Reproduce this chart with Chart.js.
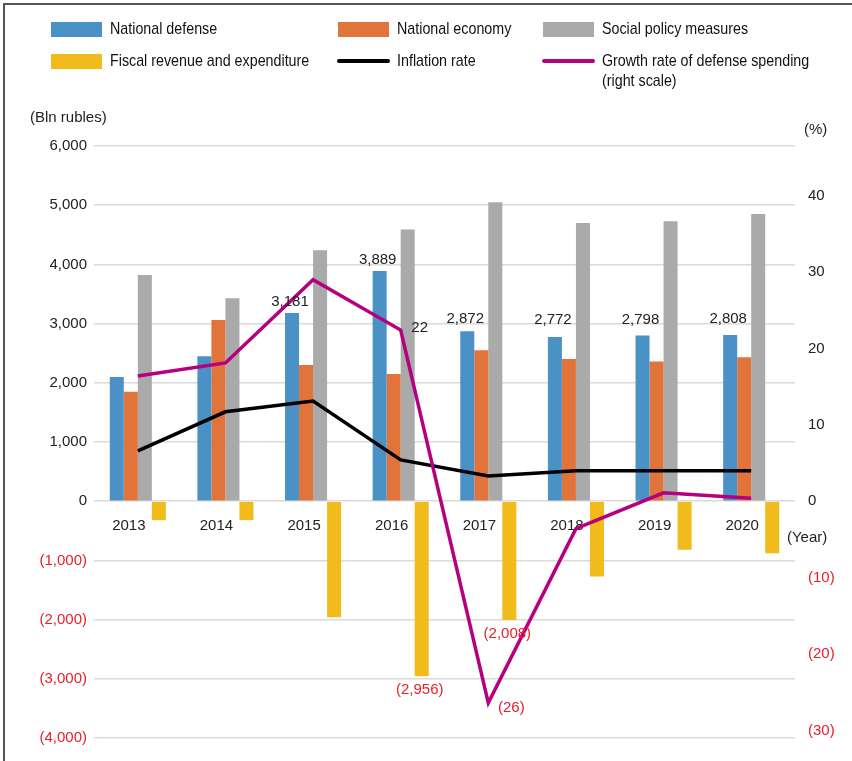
<!DOCTYPE html>
<html><head><meta charset="utf-8">
<script src="https://cdn.jsdelivr.net/npm/chart.js@4.4.1/dist/chart.umd.min.js"></script>
<style>html,body{margin:0;padding:0;background:#fff}#wrap{position:relative;width:852px;height:761px}</style>
</head><body><div id="wrap"><canvas id="c"></canvas></div>
<script>
// ---- data ----
const years = ['2013', '2014', '2015', '2016', '2017', '2018', '2019', '2020'];
const nationalDefense = [2100, 2450, 3181, 3889, 2872, 2772, 2798, 2808];
const nationalEconomy = [1850, 3060, 2300, 2150, 2550, 2400, 2360, 2430];
const socialPolicy = [3820, 3430, 4240, 4590, 5050, 4700, 4730, 4850];
const fiscalBalance = [-320, -320, -1960, -2956, -2008, -1270, -820, -880];
const inflationRate = [6.6, 11.7, 13.1, 5.4, 3.3, 4.0, 4.0, 4.0];
const defenseGrowth = [16.4, 18.1, 29.0, 22.4, -26.4, -3.6, 1.1, 0.4];
const leftTicks = [-4000, -3000, -2000, -1000, 0, 1000, 2000, 3000, 4000, 5000, 6000];
const rightTicks = [-30, -20, -10, 0, 10, 20, 30, 40];
const labeledDefenseYears = ['2015', '2016', '2017', '2018', '2019', '2020'];
const labeledFiscalYears = ['2016', '2017'];
const labeledGrowthYears = ['2016', '2017'];

// ---- style ----
const C = {blue:'#4a92c6', orange:'#e0743a', gray:'#a9aaa9', yellow:'#f2bb1c', black:'#000000', magenta:'#b5007f', red:'#e8202a', text:'#222222', grid:'#dadada'};
const FONT = '"Liberation Sans", Arial, sans-serif';
const LEGEND_FONT = '17px "Liberation Sans", Arial, sans-serif';
const LEGEND_STRETCH = 0.84;
Chart.defaults.font.family = FONT;
Chart.defaults.font.size = 15;
Chart.defaults.color = C.text;

const fmt = v => { const s = Math.abs(v).toLocaleString('en-US'); return v < 0 ? '(' + s + ')' : s; };
const fmtPct = v => { const s = String(Math.abs(Math.round(v))); return v < 0 ? '(' + s + ')' : s; };

function narrowText(ctx, t, x, y) {
  ctx.save();
  ctx.translate(x, y);
  ctx.scale(LEGEND_STRETCH, 1);
  ctx.fillText(t, 0, 0);
  ctx.restore();
}

const decor = {
  id: 'decor',
  beforeDraw(chart) {
    const ctx = chart.ctx;
    ctx.save();
    ctx.fillStyle = '#fff';
    ctx.fillRect(0, 0, chart.width, chart.height);
    ctx.strokeStyle = '#555';
    ctx.lineWidth = 2;
    ctx.beginPath();
    ctx.moveTo(4, chart.height); ctx.lineTo(4, 4); ctx.lineTo(chart.width, 4);
    ctx.stroke();
    ctx.restore();
  },
  afterDraw(chart) {
    const ctx = chart.ctx;
    ctx.save();
    // legend
    const items = [
      {t:'National defense', c:C.blue, x:51, y:29, kind:'box'},
      {t:'National economy', c:C.orange, x:338, y:29, kind:'box'},
      {t:'Social policy measures', c:C.gray, x:543, y:29, kind:'box'},
      {t:'Fiscal revenue and expenditure', c:C.yellow, x:51, y:61, kind:'box'},
      {t:'Inflation rate', c:C.black, x:338, y:61, kind:'line'},
      {t:'Growth rate of defense spending', c:C.magenta, x:543, y:61, kind:'line', t2:'(right scale)'}
    ];
    ctx.font = LEGEND_FONT;
    ctx.textBaseline = 'middle';
    ctx.textAlign = 'left';
    for (const it of items) {
      if (it.kind === 'box') {
        ctx.fillStyle = it.c;
        ctx.fillRect(it.x, it.y - 7, 51, 15);
      } else {
        ctx.strokeStyle = it.c;
        ctx.lineWidth = 4;
        ctx.lineCap = 'round';
        ctx.beginPath(); ctx.moveTo(it.x + 1, it.y); ctx.lineTo(it.x + 50, it.y); ctx.stroke();
      }
      ctx.fillStyle = '#111';
      narrowText(ctx, it.t, it.x + 59, it.y);
      if (it.t2) narrowText(ctx, it.t2, it.x + 59, it.y + 20);
    }
    // axis titles
    ctx.font = '15px ' + FONT;
    ctx.fillStyle = C.text;
    ctx.textAlign = 'left';
    ctx.fillText('(Bln rubles)', 30, 118);
    ctx.fillText('(%)', 804, 130);
    ctx.fillText('(Year)', 787, 538);

    // data labels
    const idx = y => years.indexOf(y);
    const m0 = chart.getDatasetMeta(0);
    const defDy = {'2015':-11, '2016':-11, '2017':-12, '2018':-17, '2019':-16, '2020':-16};
    ctx.textAlign = 'center';
    ctx.fillStyle = C.text;
    for (const y of labeledDefenseYears) {
      const i = idx(y), el = m0.data[i];
      ctx.fillText(fmt(nationalDefense[i]), el.x - 2, el.y + defDy[y]);
    }
    const m3 = chart.getDatasetMeta(3);
    ctx.fillStyle = C.red;
    for (const y of labeledFiscalYears) {
      const i = idx(y), el = m3.data[i];
      ctx.fillText(fmt(fiscalBalance[i]), el.x - 2, el.y + 14);
    }
    const m5 = chart.getDatasetMeta(5);
    for (const y of labeledGrowthYears) {
      const i = idx(y), el = m5.data[i];
      const v = defenseGrowth[i];
      ctx.fillStyle = v < 0 ? C.red : C.text;
      ctx.fillText(fmtPct(v), el.x + (v < 0 ? 23 : 19), el.y + (v < 0 ? 5 : -2));
    }
    ctx.restore();
  }
};

new Chart(document.getElementById('c'), {
  type: 'bar',
  data: {
    labels: years,
    datasets: [
      {label:'National defense', data:nationalDefense, backgroundColor:C.blue, yAxisID:'y', order:2},
      {label:'National economy', data:nationalEconomy, backgroundColor:C.orange, yAxisID:'y', order:2},
      {label:'Social policy measures', data:socialPolicy, backgroundColor:C.gray, yAxisID:'y', order:2},
      {label:'Fiscal revenue and expenditure', data:fiscalBalance, backgroundColor:C.yellow, yAxisID:'y', order:2},
      {type:'line', label:'Inflation rate', data:inflationRate, borderColor:C.black, borderWidth:3.5, pointRadius:0, yAxisID:'y1', order:1, tension:0},
      {type:'line', label:'Growth rate of defense spending (right scale)', data:defenseGrowth, borderColor:C.magenta, borderWidth:3.5, pointRadius:0, yAxisID:'y1', order:0, tension:0}
    ]
  },
  options: {
    responsive: true,
    maintainAspectRatio: false,
    animation: false,
    devicePixelRatio: 1,
    categoryPercentage: 0.64,
    barPercentage: 1.0,
    layout: {padding: {top: 146, bottom: 23, left: 0, right: 0}},
    plugins: {legend: {display: false}, tooltip: {enabled: false}},
    scales: {
      x: {
        position: {y: 0},
        grid: {display: false, drawTicks: false},
        border: {display: false},
        ticks: {padding: 16, labelOffset: -9, color: C.text, font: {size: 15}, maxRotation: 0, autoSkip: false}
      },
      y: {
        position: 'left',
        min: -4000, max: 6000,
        afterBuildTicks: s => { s.ticks = leftTicks.map(v => ({value: v})); },
        afterFit: s => { s.width = 94; },
        grid: {color: C.grid, lineWidth: 1.5, drawTicks: false},
        border: {display: false},
        ticks: {padding: 7, font: {size: 15}, color: c => (c.tick && c.tick.value < 0 ? C.red : C.text), callback: v => fmt(v)}
      },
      y1: {
        position: 'right',
        min: -31, max: 46.5,
        afterBuildTicks: s => { s.ticks = rightTicks.map(v => ({value: v})); },
        afterFit: s => { s.width = 57; },
        grid: {display: false, drawTicks: false},
        border: {display: false},
        ticks: {padding: 13, font: {size: 15}, color: c => (c.tick && c.tick.value < 0 ? C.red : C.text), callback: v => fmtPct(v)}
      }
    }
  },
  plugins: [decor]
});
</script></body></html>
